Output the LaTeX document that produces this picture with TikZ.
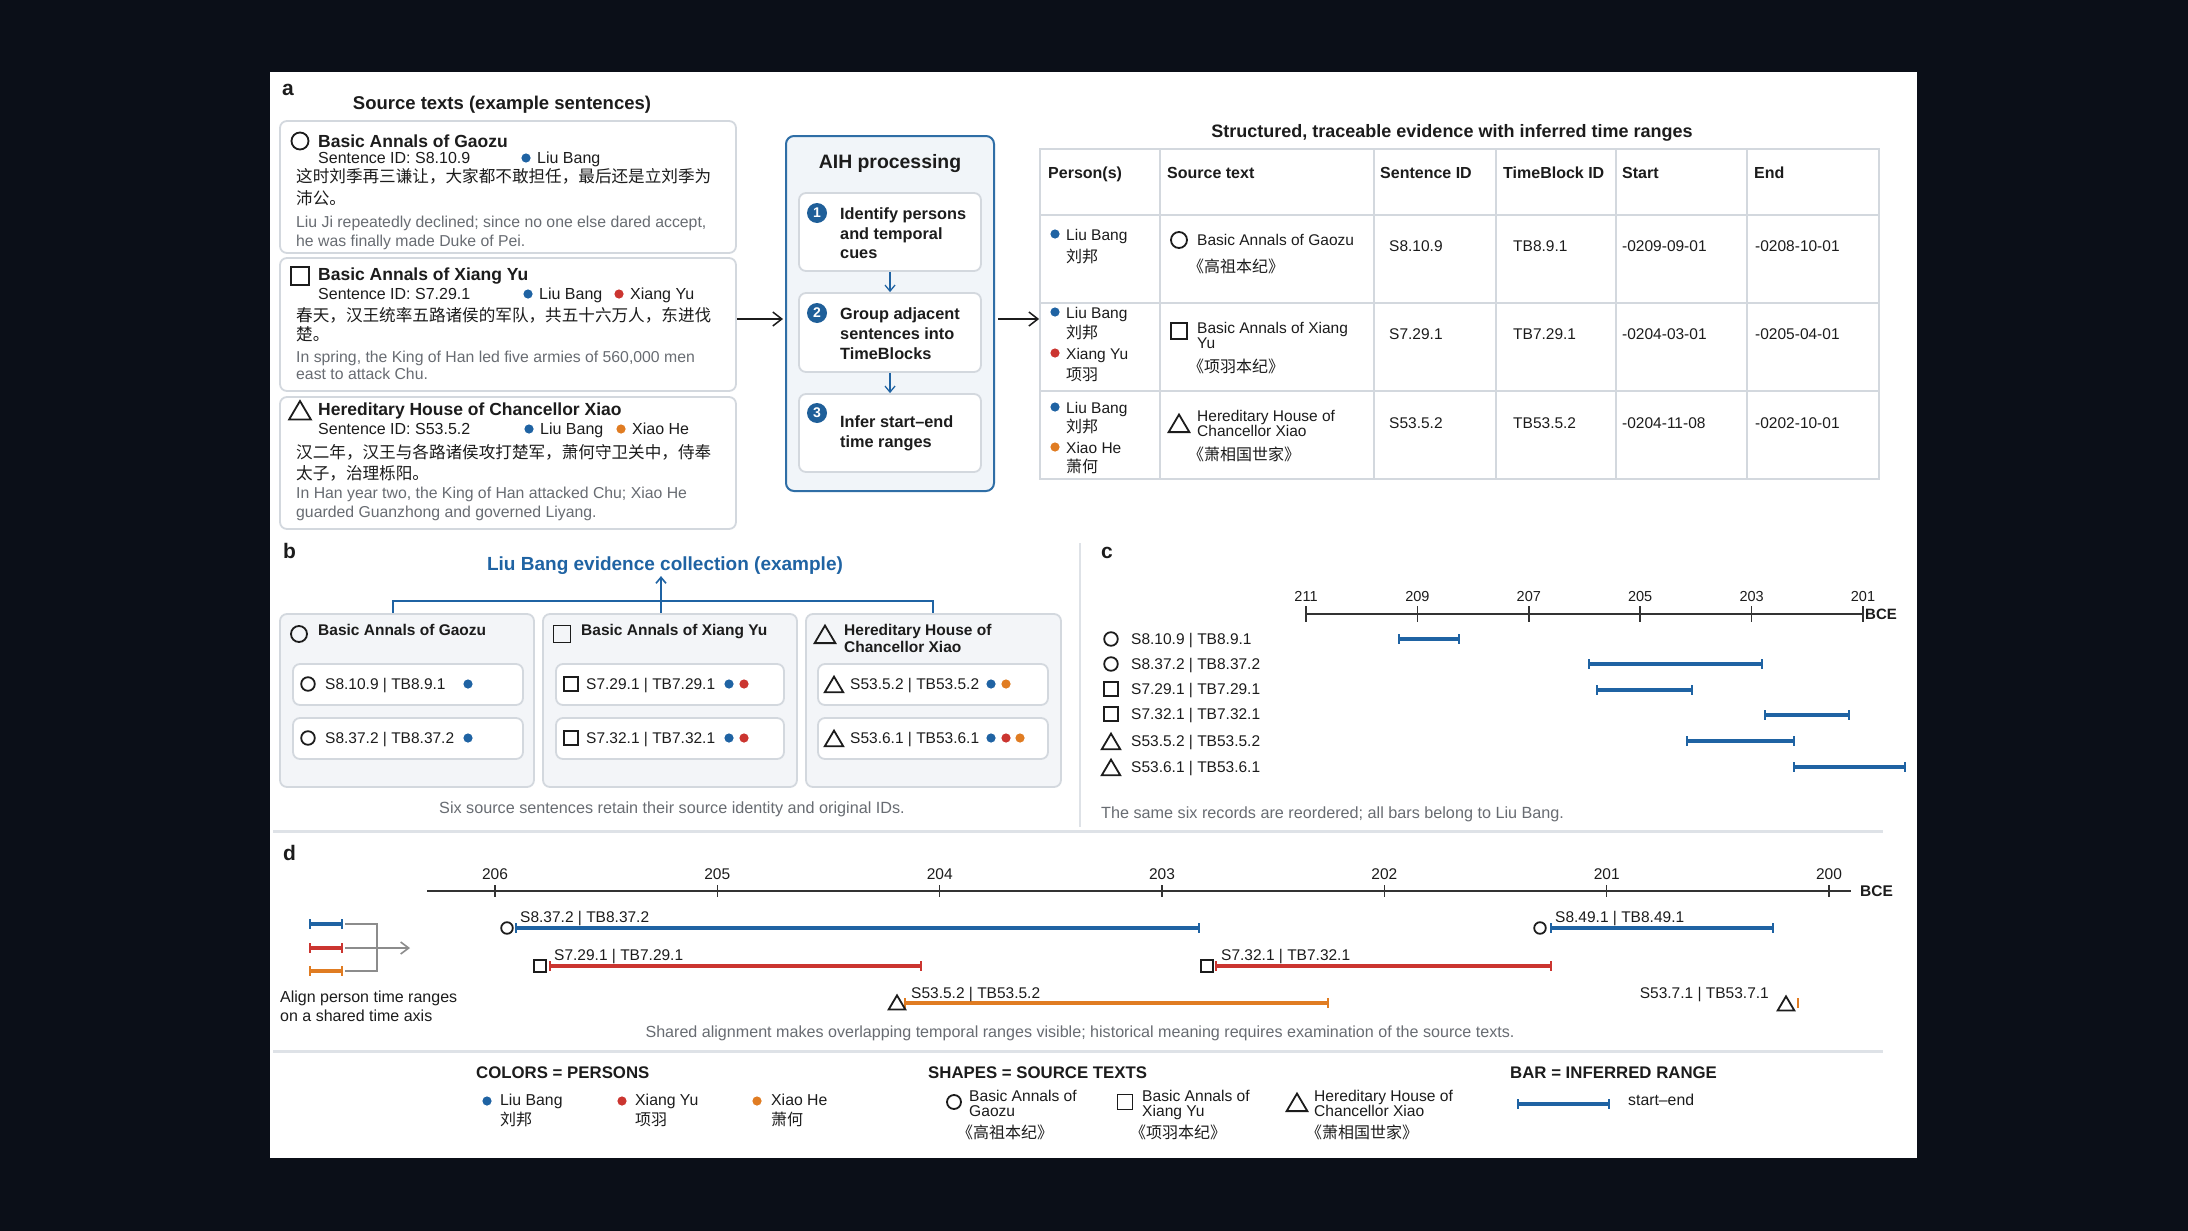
\documentclass[tikz,border=0pt]{standalone}
\usepackage{fontspec}
\setmainfont{Liberation Sans}
\newfontfamily\cjk{Noto Sans CJK SC}
\usetikzlibrary{arrows.meta,calc}
\definecolor{bgdark}{HTML}{0B0F18}
\definecolor{pblue}{HTML}{1F63A3}
\definecolor{pred}{HTML}{CB3530}
\definecolor{porange}{HTML}{E07C22}
\definecolor{gtext}{HTML}{686C72}
\definecolor{ink}{HTML}{1C1C1C}
\definecolor{bord}{HTML}{D3D8DE}
\definecolor{gfill}{HTML}{F3F5F8}
\definecolor{aihfill}{HTML}{F1F5F9}
\definecolor{aihbord}{HTML}{2F6EA6}
\definecolor{sepc}{HTML}{DEE2E7}
\definecolor{numblue}{HTML}{1F5F99}
\definecolor{axisc}{HTML}{333333}
\definecolor{icong}{HTML}{8C8C8C}
\newcommand\fsz[1]{\fontsize{#1}{#1}\selectfont}
\newcommand\T[6][]{\node[tx,#1] (#2) at (#3,{#4+0.36*#5}) {\fsz{#5}#6};}
\newcommand\dotc[3]{\fill[#1] (#2,#3) circle[radius=4.6];}
\newcommand\rbar[5][4.6]{\draw[#2,line width=#1] (#3,#5) -- (#4,#5);
  \draw[#2,line width=1.8] (#3,{#5-5}) -- (#3,{#5+5}) (#4,{#5-5}) -- (#4,{#5+5});}
\begin{document}
\begin{tikzpicture}[x=1pt,y=-1pt,
  tx/.style={inner sep=0pt,anchor=base west,text=ink},
  card/.style={draw=bord,line width=1.8,fill=white,rounded corners=7,inner sep=0pt},
  gcard/.style={draw=bord,line width=1.8,fill=gfill,rounded corners=7,inner sep=0pt},
  symline/.style={line width=1.8,draw=ink},
  pics/sc/.style={code={\draw[symline] (0,0) circle[radius=#1];}},
  pics/ss/.style={code={\draw[symline] (-#1,-#1) rectangle (#1,#1);}},
  pics/st/.style={code={\draw[symline,line join=miter] ({-1.15*#1},{0.9*#1}) -- (0,{-1.05*#1}) -- ({1.15*#1},{0.9*#1}) -- cycle;}},
  tline/.style={draw=bord,line width=1.8},
  arr/.style={line width=1.5,draw=ink,-{Straight Barb[length=9,width=14]}},
  barr/.style={line width=1.3,draw=pblue,-{Straight Barb[length=6,width=10]}},
  numc/.style={circle,fill=numblue,text=white,inner sep=0pt,minimum size=20,font=\fsz{14}\bfseries},
]
\useasboundingbox (0,0) rectangle (2188,1231);
\fill[bgdark] (0,0) rectangle (2188,1231);
\fill[white] (270,72) rectangle (1917,1158);

% separators
\draw[sepc,line width=3] (273,831) -- (1883,831);
\draw[sepc,line width=3] (273,1051) -- (1883,1051);
\draw[sepc,line width=2] (1080,543) -- (1080,827);

% ================= panel a =================
\T{la}{282}{88}{21}{\bfseries a}
\T[anchor=base]{srcttl}{502}{103}{18.5}{\bfseries Source texts (example sentences)}

\node[card,minimum width=456,minimum height=132] (srcA) at (508,187) {};
\node[card,minimum width=456,minimum height=133] (srcB) at (508,324.5) {};
\node[card,minimum width=456,minimum height=132] (srcC) at (508,463) {};

% box A
\pic at (300,141) {sc=8.5};
\T{aA1}{318}{141}{17.5}{\bfseries Basic Annals of Gaozu}
\T{aA2}{318}{158}{16}{Sentence ID: S8.10.9}
\dotc{pblue}{526}{158}
\T{aA3}{537}{158}{16}{Liu Bang}
\T{aA4}{296}{177}{16.6}{\cjk 这时刘季再三谦让，大家都不敢担任，最后还是立刘季为}
\T{aA5}{296}{199}{16.6}{\cjk 沛公。}
\T[text=gtext]{aA6}{296}{222}{15.8}{Liu Ji repeatedly declined; since no one else dared accept,}
\T[text=gtext]{aA7}{296}{241}{15.8}{he was finally made Duke of Pei.}

% box B
\pic at (300,276) {ss=9};
\T{aB1}{318}{274}{17.5}{\bfseries Basic Annals of Xiang Yu}
\T{aB2}{318}{294}{16}{Sentence ID: S7.29.1}
\dotc{pblue}{528}{294}
\T{aB3}{539}{294}{16}{Liu Bang}
\dotc{pred}{619}{294}
\T{aB4}{630}{294}{16}{Xiang Yu}
\T{aB5}{296}{316}{16.6}{\cjk 春天，汉王统率五路诸侯的军队，共五十六万人，东进伐}
\T{aB6}{296}{335}{16.6}{\cjk 楚。}
\T[text=gtext]{aB7}{296}{357}{15.8}{In spring, the King of Han led five armies of 560,000 men}
\T[text=gtext]{aB8}{296}{374}{15.8}{east to attack Chu.}

% box C
\pic at (300,411) {st=9.5};
\T{aC1}{318}{409}{17.5}{\bfseries Hereditary House of Chancellor Xiao}
\T{aC2}{318}{429}{16}{Sentence ID: S53.5.2}
\dotc{pblue}{529}{429}
\T{aC3}{540}{429}{16}{Liu Bang}
\dotc{porange}{621}{429}
\T{aC4}{632}{429}{16}{Xiao He}
\T{aC5}{296}{453}{16.6}{\cjk 汉二年，汉王与各路诸侯攻打楚军，萧何守卫关中，侍奉}
\T{aC6}{296}{474}{16.6}{\cjk 太子，治理栎阳。}
\T[text=gtext]{aC7}{296}{493}{15.8}{In Han year two, the King of Han attacked Chu; Xiao He}
\T[text=gtext]{aC8}{296}{512}{15.8}{guarded Guanzhong and governed Liyang.}

% AIH processing
\node[draw=aihbord,line width=2,fill=aihfill,rounded corners=8,minimum width=208,minimum height=355,inner sep=0pt] (aih) at (890,313.5) {};
\T[anchor=base]{aihttl}{890}{162}{19.4}{\bfseries AIH processing}
\node[card,minimum width=182,minimum height=78] (st1) at (890,232) {};
\node[card,minimum width=182,minimum height=79] (st2) at (890,332.5) {};
\node[card,minimum width=182,minimum height=78] (st3) at (890,433) {};
\node[numc] (n1) at (817,213) {1};
\node[numc] (n2) at (817,313) {2};
\node[numc] (n3) at (817,413) {3};
\T{s1a}{840}{214}{16.3}{\bfseries Identify persons}
\T{s1b}{840}{234}{16.3}{\bfseries and temporal}
\T{s1c}{840}{253}{16.3}{\bfseries cues}
\T{s2a}{840}{314}{16.3}{\bfseries Group adjacent}
\T{s2b}{840}{334}{16.3}{\bfseries sentences into}
\T{s2c}{840}{354}{16.3}{\bfseries TimeBlocks}
\T{s3a}{840}{422}{16.3}{\bfseries Infer start–end}
\T{s3b}{840}{442}{16.3}{\bfseries time ranges}
\draw[barr] (st1.south) -- (st2.north);
\draw[barr] (st2.south) -- (st3.north);

% table
\T[anchor=base]{tblttl}{1452}{131}{18}{\bfseries Structured, traceable evidence with inferred time ranges}
\node[draw=bord,line width=1.8,minimum width=839,minimum height=330,inner sep=0pt] (tbl) at (1459.5,314) {};
\draw[tline] (1040,215) -- (1879,215) (1040,303) -- (1879,303) (1040,391) -- (1879,391);
\draw[tline] (1160,149) -- (1160,479) (1374,149) -- (1374,479) (1496,149) -- (1496,479)
  (1616,149) -- (1616,479) (1747,149) -- (1747,479);
\T{h1}{1048}{173}{16}{\bfseries Person(s)}
\T{h2}{1167}{173}{16}{\bfseries Source text}
\T{h3}{1380}{173}{16}{\bfseries Sentence ID}
\T{h4}{1503}{173}{16}{\bfseries TimeBlock ID}
\T{h5}{1622}{173}{16}{\bfseries Start}
\T{h6}{1754}{173}{16}{\bfseries End}
% row 1
\dotc{pblue}{1055}{234}
\T{r1a}{1066}{235}{15.5}{Liu Bang}
\T{r1b}{1066}{257}{16}{\cjk 刘邦}
\pic at (1179,240) {sc=8};
\T{r1c}{1197}{240}{15.5}{Basic Annals of Gaozu}
\T{r1d}{1188}{267}{16}{\cjk 《高祖本纪》}
\T{r1e}{1389}{246}{15.5}{S8.10.9}
\T{r1f}{1513}{246}{15.5}{TB8.9.1}
\T{r1g}{1622}{246}{15.5}{-0209-09-01}
\T{r1h}{1755}{246}{15.5}{-0208-10-01}
% row 2
\dotc{pblue}{1055}{312}
\T{r2a}{1066}{313}{15.5}{Liu Bang}
\T{r2b}{1066}{333}{16}{\cjk 刘邦}
\dotc{pred}{1055}{353}
\T{r2c}{1066}{354}{15.5}{Xiang Yu}
\T{r2d}{1066}{375}{16}{\cjk 项羽}
\pic at (1179,331) {ss=8};
\T{r2e}{1197}{328}{15.5}{Basic Annals of Xiang}
\T{r2f}{1197}{343}{15.5}{Yu}
\T{r2g}{1188}{367}{16}{\cjk 《项羽本纪》}
\T{r2h}{1389}{334}{15.5}{S7.29.1}
\T{r2i}{1513}{334}{15.5}{TB7.29.1}
\T{r2j}{1622}{334}{15.5}{-0204-03-01}
\T{r2k}{1755}{334}{15.5}{-0205-04-01}
% row 3
\dotc{pblue}{1055}{407}
\T{r3a}{1066}{408}{15.5}{Liu Bang}
\T{r3b}{1066}{427}{16}{\cjk 刘邦}
\dotc{porange}{1055}{447}
\T{r3c}{1066}{448}{15.5}{Xiao He}
\T{r3d}{1066}{467}{16}{\cjk 萧何}
\pic at (1179,424) {st=9};
\T{r3e}{1197}{416}{15.5}{Hereditary House of}
\T{r3f}{1197}{431}{15.5}{Chancellor Xiao}
\T{r3g}{1188}{455}{16}{\cjk 《萧相国世家》}
\T{r3h}{1389}{423}{15.5}{S53.5.2}
\T{r3i}{1513}{423}{15.5}{TB53.5.2}
\T{r3j}{1622}{423}{15.5}{-0204-11-08}
\T{r3k}{1755}{423}{15.5}{-0202-10-01}

% arrows a
\coordinate (arY) at (0,319);
\draw[arr,shorten >=2] (srcB.east |- arY) -- (aih.west |- arY);
\draw[arr,shorten <=3] (aih.east |- arY) -- (tbl.west |- arY);

% ================= panel b =================
\T{lb}{283}{551}{21}{\bfseries b}
\T[anchor=base,text=pblue]{bttl}{665}{564}{19}{\bfseries Liu Bang evidence collection (example)}
\node[gcard,minimum width=254,minimum height=173] (g1) at (407,700.5) {};
\node[gcard,minimum width=254,minimum height=173] (g2) at (670,700.5) {};
\node[gcard,minimum width=255,minimum height=173] (g3) at (933.5,700.5) {};
\coordinate (bl) at (393,601);
\coordinate (br) at (933,601);
\draw[pblue,line width=1.6] (bl |- g1.north) -- (bl) -- (br) -- (br |- g3.north);
\coordinate (bx) at (661,601);
\draw[barr,line width=1.6,shorten >=1] (bx |- g2.north) -- (bx |- bttl.south);
% headers
\pic at (299,634) {sc=8};
\T{g1h}{318}{630}{15.5}{\bfseries Basic Annals of Gaozu}
\pic at (562,634) {ss=8.5};
\T{g2h}{581}{630}{15.5}{\bfseries Basic Annals of Xiang Yu}
\pic at (825,635) {st=9};
\T{g3h}{844}{630}{15.5}{\bfseries Hereditary House of}
\T{g3h2}{844}{647}{15.5}{\bfseries Chancellor Xiao}
% items
\node[card,minimum width=230,minimum height=41] (i11) at (408,684.5) {};
\node[card,minimum width=230,minimum height=41] (i12) at (408,738.5) {};
\node[card,minimum width=228,minimum height=41] (i21) at (670,684.5) {};
\node[card,minimum width=228,minimum height=41] (i22) at (670,738.5) {};
\node[card,minimum width=230,minimum height=41] (i31) at (933,684.5) {};
\node[card,minimum width=230,minimum height=41] (i32) at (933,738.5) {};
\pic at (308,684) {sc=6.8};
\T{t11}{325}{684}{15.5}{S8.10.9 | TB8.9.1}
\dotc{pblue}{468}{684}
\pic at (308,738) {sc=6.8};
\T{t12}{325}{738}{15.5}{S8.37.2 | TB8.37.2}
\dotc{pblue}{468}{738}
\pic at (571,684) {ss=7};
\T{t21}{586}{684}{15.5}{S7.29.1 | TB7.29.1}
\dotc{pblue}{729}{684}\dotc{pred}{744}{684}
\pic at (571,738) {ss=7};
\T{t22}{586}{738}{15.5}{S7.32.1 | TB7.32.1}
\dotc{pblue}{729}{738}\dotc{pred}{744}{738}
\pic at (834,685) {st=8};
\T{t31}{850}{684}{15.5}{S53.5.2 | TB53.5.2}
\dotc{pblue}{991}{684}\dotc{porange}{1006}{684}
\pic at (834,739) {st=8};
\T{t32}{850}{738}{15.5}{S53.6.1 | TB53.6.1}
\dotc{pblue}{991}{738}\dotc{pred}{1006}{738}\dotc{porange}{1020}{738}
\T[anchor=base,text=gtext]{bcap}{672}{808}{16.2}{Six source sentences retain their source identity and original IDs.}

% ================= panel c =================
\T{lc}{1101}{551}{21}{\bfseries c}
\draw[axisc,line width=1.5] (1306,614) -- (1863,614);
\foreach \xx/\lab [count=\i] in {1306/211,1417.4/209,1528.8/207,1640.2/205,1751.6/203,1863/201}{
  \draw[axisc,line width=1.5] (\xx,606) -- (\xx,622);
  \node[tx,anchor=base] (ct\i) at (\xx,{596+0.36*14.5}) {\fsz{14.5}\lab};
}
\T{cbce}{1865}{614}{15}{\bfseries BCE}
\pic at (1111,639) {sc=6.8};
\T{c1}{1131}{639}{15.5}{S8.10.9 | TB8.9.1}
\pic at (1111,664) {sc=6.8};
\T{c2}{1131}{664}{15.5}{S8.37.2 | TB8.37.2}
\pic at (1111,689) {ss=7};
\T{c3}{1131}{689}{15.5}{S7.29.1 | TB7.29.1}
\pic at (1111,714) {ss=7};
\T{c4}{1131}{714}{15.5}{S7.32.1 | TB7.32.1}
\pic at (1111,742) {st=8};
\T{c5}{1131}{741}{15.5}{S53.5.2 | TB53.5.2}
\pic at (1111,768) {st=8};
\T{c6}{1131}{767}{15.5}{S53.6.1 | TB53.6.1}
\rbar{pblue}{1399}{1459}{639}
\rbar{pblue}{1589}{1762}{664}
\rbar{pblue}{1597}{1692}{690}
\rbar{pblue}{1765}{1849}{715}
\rbar{pblue}{1687}{1794}{741}
\rbar{pblue}{1794}{1905}{767}
\T[text=gtext]{ccap}{1101}{813}{16.2}{The same six records are reordered; all bars belong to Liu Bang.}

% ================= panel d =================
\T{ld}{283}{853}{21}{\bfseries d}
\draw[axisc,line width=1.5] (427,891) -- (1851,891);
\foreach \xx/\lab [count=\i] in {495/206,717.3/205,939.7/204,1162/203,1384.3/202,1606.7/201,1829/200}{
  \draw[axisc,line width=1.5] (\xx,885) -- (\xx,897);
  \node[tx,anchor=base] (dt\i) at (\xx,{874+0.36*15.5}) {\fsz{15.5}\lab};
}
\T{dbce}{1860}{891}{15.5}{\bfseries BCE}
% icon
\rbar[4]{pblue}{310}{342}{924}
\rbar[4]{pred}{310}{342}{948}
\rbar[4]{porange}{310}{342}{971}
\draw[icong,line width=1.6] (345,924) -- (377,924) -- (377,971) -- (345,971);
\coordinate (icS) at (345,948);
\coordinate (icE) at (410,948);
\draw[icong,line width=1.6,-{Straight Barb[length=8,width=12]}] (icS) -- (icE);
\T{dal1}{280}{997}{16}{Align person time ranges}
\T{dal2}{280}{1016}{16}{on a shared time axis}
% bars
\rbar{pblue}{516}{1199}{928}
\pic at (507,928) {sc=5.8};
\T{d1}{520}{917}{15.5}{S8.37.2 | TB8.37.2}
\rbar{pblue}{1551}{1773}{928}
\pic at (1540,928) {sc=5.8};
\T{d2}{1555}{917}{15.5}{S8.49.1 | TB8.49.1}
\rbar{pred}{550}{921}{966}
\pic at (540,966) {ss=6};
\T{d3}{554}{955}{15.5}{S7.29.1 | TB7.29.1}
\rbar{pred}{1216}{1551}{966}
\pic at (1207,966) {ss=6};
\T{d4}{1221}{955}{15.5}{S7.32.1 | TB7.32.1}
\rbar{porange}{905}{1328}{1003}
\pic at (897,1003) {st=7.3};
\T{d5}{911}{993}{15.5}{S53.5.2 | TB53.5.2}
\draw[porange,line width=1.8] (1798,998) -- (1798,1008);
\pic at (1786,1004) {st=7.3};
\T[anchor=base east]{d6}{1769}{993}{15.5}{S53.7.1 | TB53.7.1}
\T[anchor=base,text=gtext]{dcap}{1080}{1032}{16.1}{Shared alignment makes overlapping temporal ranges visible; historical meaning requires examination of the source texts.}

% ================= legend =================
\T{lg1}{476}{1072}{16.8}{\bfseries COLORS = PERSONS}
\dotc{pblue}{487}{1101}
\T{lgp1}{500}{1100}{15.8}{Liu Bang}
\T{lgp1c}{500}{1120}{16}{\cjk 刘邦}
\dotc{pred}{622}{1101}
\T{lgp2}{635}{1100}{15.8}{Xiang Yu}
\T{lgp2c}{635}{1120}{16}{\cjk 项羽}
\dotc{porange}{757}{1101}
\T{lgp3}{771}{1100}{15.8}{Xiao He}
\T{lgp3c}{771}{1120}{16}{\cjk 萧何}

\T{lg2}{928}{1072}{16.8}{\bfseries SHAPES = SOURCE TEXTS}
\pic at (954,1102) {sc=7};
\T{lgs1a}{969}{1096}{15.6}{Basic Annals of}
\T{lgs1b}{969}{1111}{15.6}{Gaozu}
\T{lgs1c}{957}{1133}{16}{\cjk 《高祖本纪》}
\pic at (1125,1102) {ss=7.5};
\T{lgs2a}{1142}{1096}{15.6}{Basic Annals of}
\T{lgs2b}{1142}{1111}{15.6}{Xiang Yu}
\T{lgs2c}{1130}{1133}{16}{\cjk 《项羽本纪》}
\pic at (1297,1103) {st=9};
\T{lgs3a}{1314}{1096}{15.6}{Hereditary House of}
\T{lgs3b}{1314}{1111}{15.6}{Chancellor Xiao}
\T{lgs3c}{1306}{1133}{16}{\cjk 《萧相国世家》}

\T{lg3}{1510}{1072}{16.8}{\bfseries BAR = INFERRED RANGE}
\rbar{pblue}{1518}{1609}{1104}
\T{lgb}{1628}{1100}{15.8}{start–end}
\end{tikzpicture}
\end{document}
